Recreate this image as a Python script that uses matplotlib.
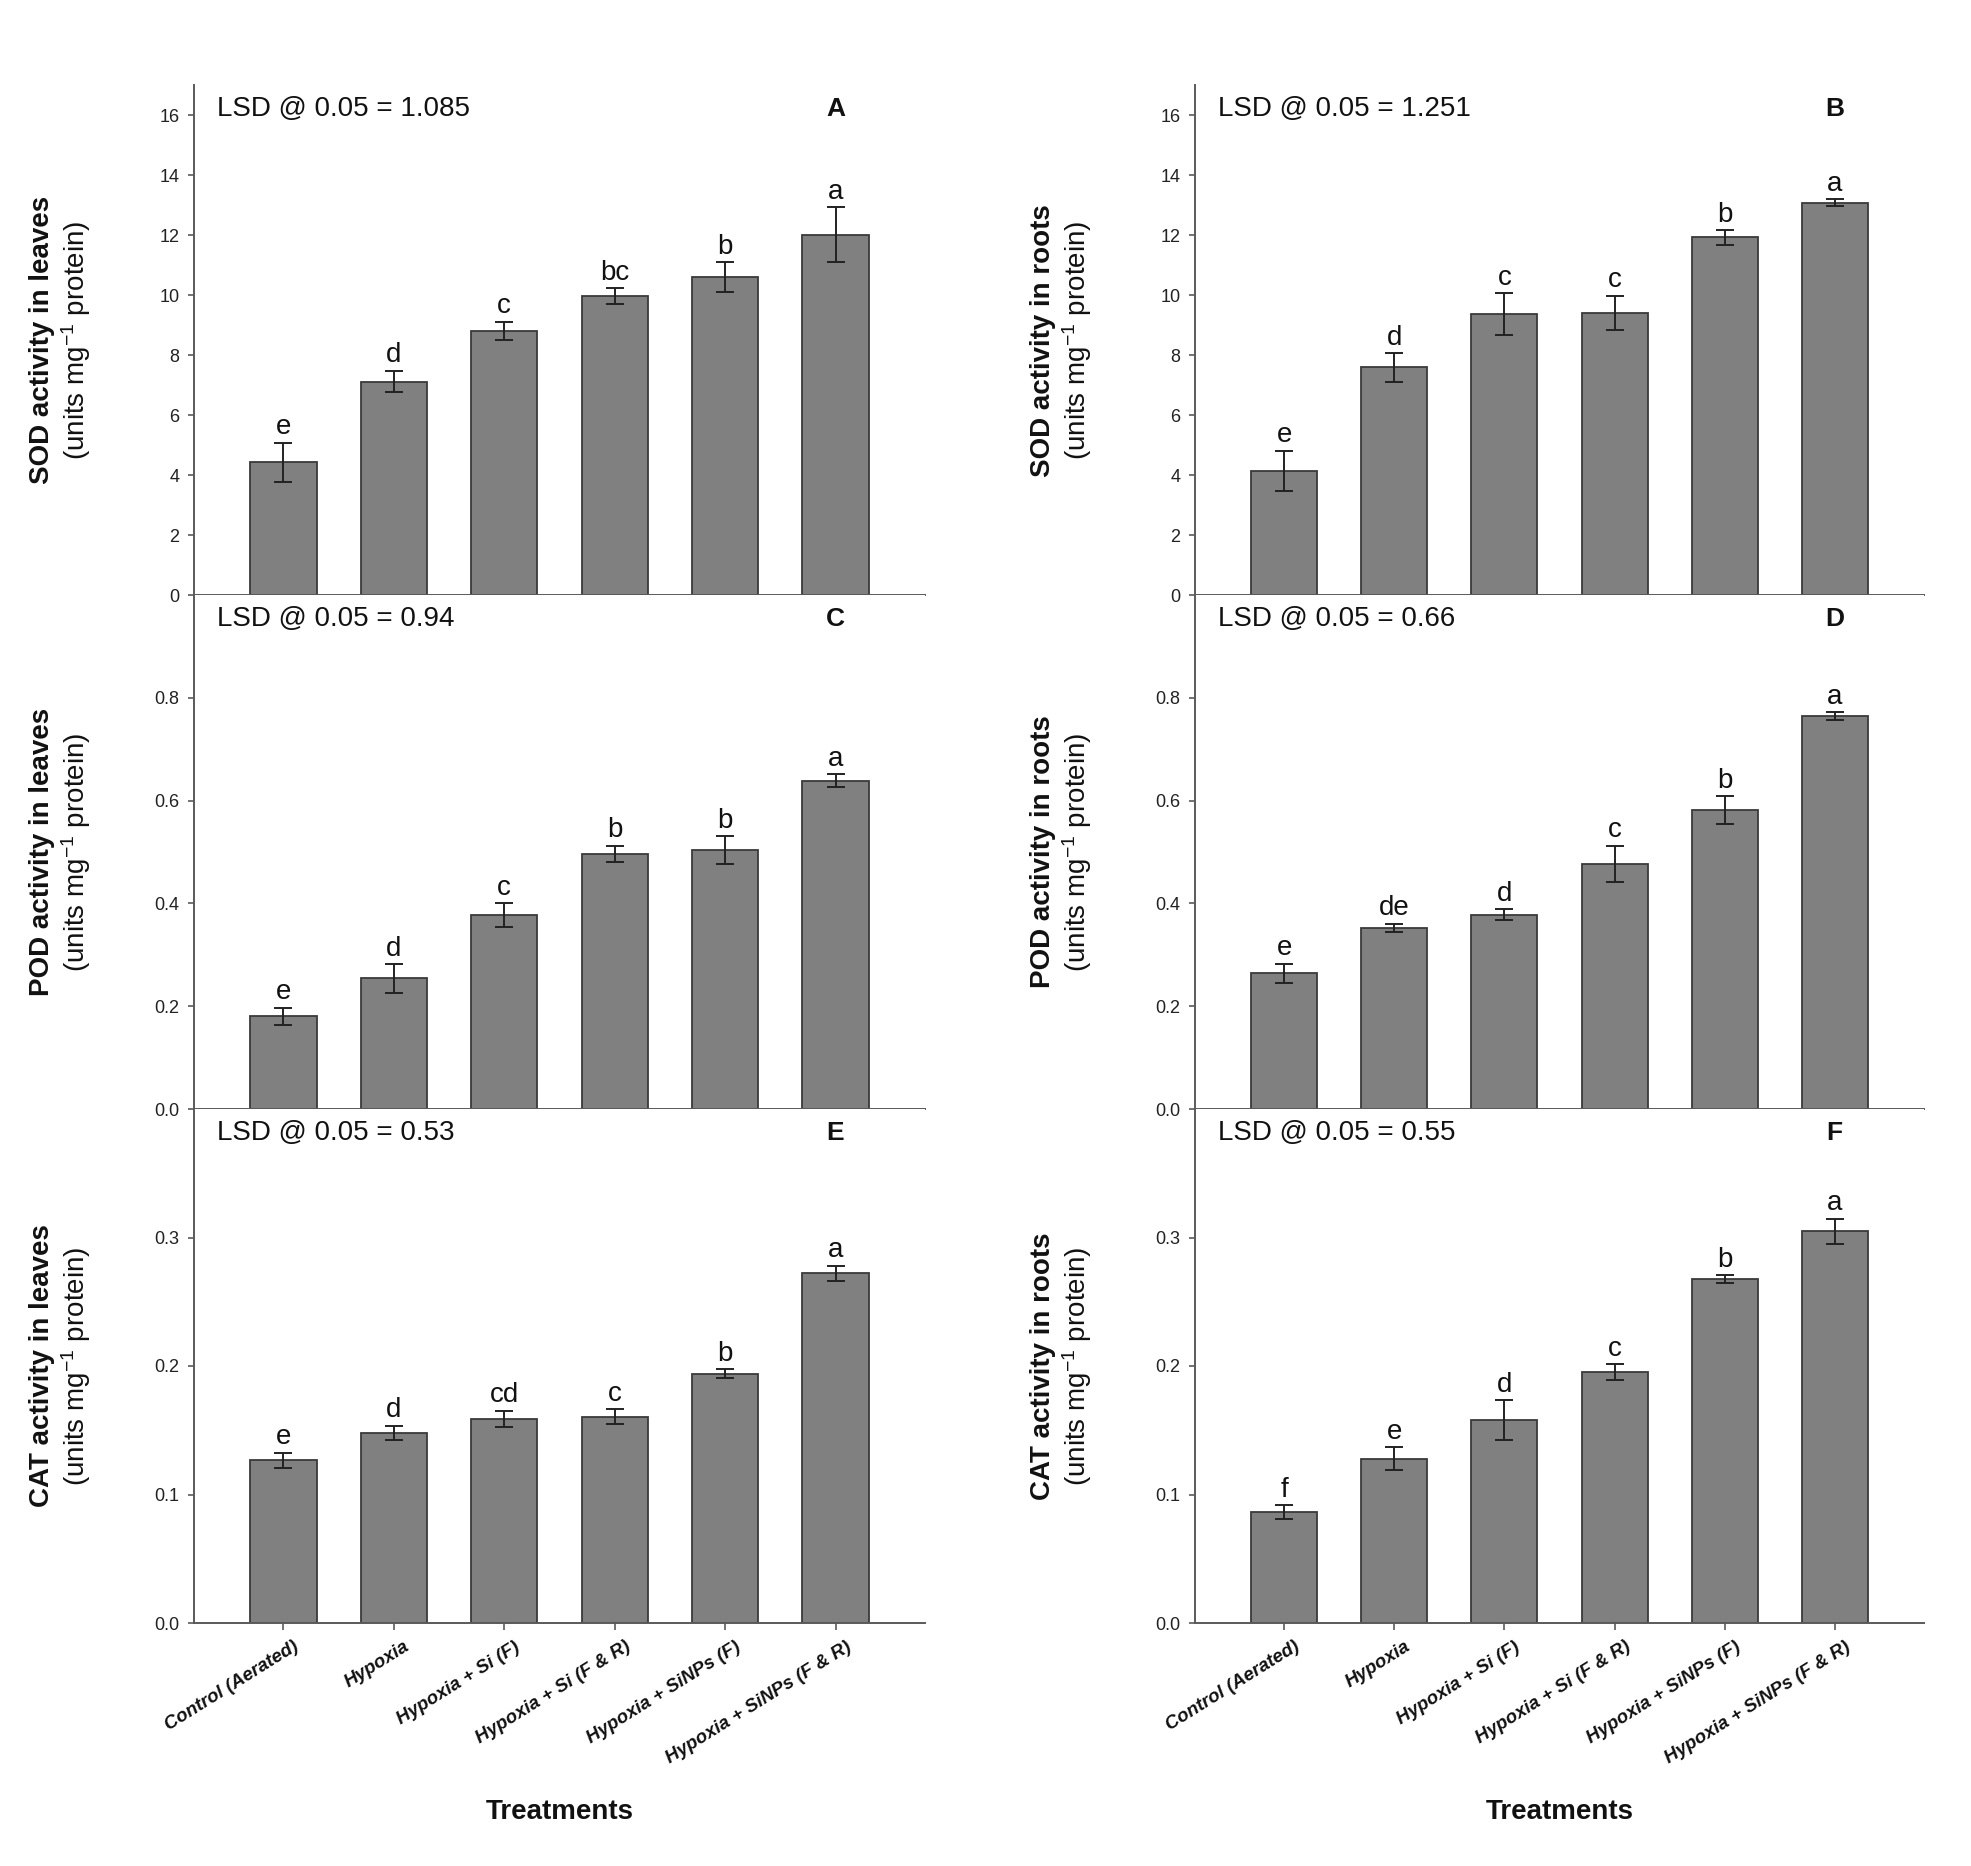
import matplotlib
matplotlib.use("Agg")
import matplotlib.pyplot as plt
from matplotlib import font_manager
import matplotlib.transforms as mtransforms

# ---------------- data ----------------
treatments = ["Control (Aerated)", "Hypoxia", "Hypoxia + Si (F)", "Hypoxia + Si (F & R)",
              "Hypoxia + SiNPs (F)", "Hypoxia + SiNPs (F & R)"]

sod_leaves = [4.43, 7.12, 8.82, 9.97, 10.61, 12.02]
sod_leaves_err = [0.65, 0.36, 0.30, 0.27, 0.50, 0.91]
sod_leaves_let = ["e", "d", "c", "bc", "b", "a"]

sod_roots = [4.14, 7.60, 9.37, 9.42, 11.93, 13.09]
sod_roots_err = [0.68, 0.48, 0.70, 0.57, 0.25, 0.12]
sod_roots_let = ["e", "d", "c", "c", "b", "a"]

pod_leaves = [0.180, 0.254, 0.378, 0.496, 0.504, 0.639]
pod_leaves_err = [0.017, 0.028, 0.023, 0.016, 0.027, 0.012]
pod_leaves_let = ["e", "d", "c", "b", "b", "a"]

pod_roots = [0.264, 0.352, 0.378, 0.477, 0.581, 0.764]
pod_roots_err = [0.019, 0.0085, 0.011, 0.035, 0.027, 0.008]
pod_roots_let = ["e", "de", "d", "c", "b", "a"]

cat_leaves = [0.1266, 0.148, 0.159, 0.1605, 0.1939, 0.272]
cat_leaves_err = [0.006, 0.0055, 0.0062, 0.0057, 0.0035, 0.006]
cat_leaves_let = ["e", "d", "cd", "c", "b", "a"]

cat_roots = [0.0862, 0.128, 0.158, 0.1953, 0.2677, 0.3049]
cat_roots_err = [0.0055, 0.0088, 0.0153, 0.0062, 0.0032, 0.0098]
cat_roots_let = ["f", "e", "d", "c", "b", "a"]

lsd_texts = ["LSD @ 0.05 = 1.085", "LSD @ 0.05 = 1.251", "LSD @ 0.05 = 0.94",
             "LSD @ 0.05 = 0.66", "LSD @ 0.05 = 0.53", "LSD @ 0.05 = 0.55"]
panel_letters = ["A", "B", "C", "D", "E", "F"]
ylabels_bold = ["SOD activity in leaves", "SOD activity in roots",
                "POD activity in leaves", "POD activity in roots",
                "CAT activity in leaves", "CAT activity in roots"]
ylabel_unit = "(units mg$^{-1}$ protein)"

sod_ticks = [0, 2, 4, 6, 8, 10, 12, 14, 16]
pod_ticks = [0.0, 0.2, 0.4, 0.6, 0.8]
cat_ticks = [0.0, 0.1, 0.2, 0.3]

# ---------------- fonts ----------------
def has_font(name):
    try:
        font_manager.findfont(font_manager.FontProperties(family=name), fallback_to_default=False)
        return True
    except Exception:
        return False

MAIN = "Liberation Sans" if has_font("Liberation Sans") else "DejaVu Sans"
NARROW = "Liberation Sans Narrow" if has_font("Liberation Sans Narrow") else MAIN
plt.rcParams["font.family"] = [MAIN, "DejaVu Sans"]
plt.rcParams["mathtext.fontset"] = "custom"
plt.rcParams["mathtext.rm"] = MAIN
plt.rcParams["mathtext.it"] = MAIN + ":italic"
plt.rcParams["mathtext.bf"] = MAIN + ":bold"

W, H = 1971, 1866
fig = plt.figure(figsize=(W / 100, H / 100), dpi=100)

col_x = [(194, 731), (1195, 729)]
row_y = [(85.5, 595), (595, 1109), (1109, 1623)]

panels = [
    (sod_leaves, sod_leaves_err, sod_leaves_let, 17, sod_ticks, "{:.0f}"),
    (sod_roots, sod_roots_err, sod_roots_let, 17, sod_ticks, "{:.0f}"),
    (pod_leaves, pod_leaves_err, pod_leaves_let, 1.0, pod_ticks, "{:.1f}"),
    (pod_roots, pod_roots_err, pod_roots_let, 1.0, pod_ticks, "{:.1f}"),
    (cat_leaves, cat_leaves_err, cat_leaves_let, 0.4, cat_ticks, "{:.1f}"),
    (cat_roots, cat_roots_err, cat_roots_let, 0.4, cat_ticks, "{:.1f}"),
]

spine_col = "#5a5a5a"
x = list(range(len(treatments)))
label_shift = mtransforms.ScaledTranslation(7 / 72, -11 / 72, fig.dpi_scale_trans)

for k, (vals, errs, lets, ytop, yt, fmt) in enumerate(panels):
    r, c = divmod(k, 2)
    x0, w = col_x[c]
    top, bot = row_y[r]
    ax = fig.add_axes([x0 / W, 1 - bot / H, w / W, (bot - top) / H])
    ax.bar(x, vals, width=0.6, color="#808080", edgecolor="#3a3a3a", linewidth=1.3, zorder=2)
    ax.errorbar(x, vals, yerr=errs, fmt="none", ecolor="#222222", elinewidth=1.4,
                capsize=6.5, capthick=1.4, zorder=3)
    for i, (v, e, l) in enumerate(zip(vals, errs, lets)):
        ax.annotate(l, xy=(i, v + e), xytext=(0, 6), textcoords="offset points",
                    ha="center", va="baseline", fontsize=20, color="#111111")
    ax.set_xlim(-0.81, 5.81)
    ax.set_ylim(0, ytop)
    ax.set_yticks(yt)
    ax.set_yticklabels([fmt.format(t) for t in yt], fontfamily=NARROW, fontsize=13, color="#222222")
    ax.set_xticks(x)
    ax.set_xticklabels([])
    if r == 2:
        xtrans = mtransforms.blended_transform_factory(ax.transData, ax.transAxes) + label_shift
        for i, name in enumerate(treatments):
            ax.text(i, 0, name, transform=xtrans, rotation=32, ha="right", va="top",
                    rotation_mode="anchor", fontsize=13.5, fontweight="bold",
                    fontstyle="italic", color="#111111", clip_on=False)
    for s in ["top", "right"]:
        ax.spines[s].set_visible(False)
    for s in ["left", "bottom"]:
        ax.spines[s].set_color(spine_col)
        ax.spines[s].set_linewidth(1.4)
    ax.tick_params(axis="y", direction="out", length=4.5, width=1.2, color=spine_col, pad=6)
    ax.tick_params(axis="x", direction="out", length=5, width=1.2, color=spine_col, pad=6)

    ax.text(0.032, 0.953, lsd_texts[k], transform=ax.transAxes, ha="left", va="center",
            fontsize=20, color="#111111")
    trans = mtransforms.blended_transform_factory(ax.transData, ax.transAxes)
    ax.text(5, 0.953, panel_letters[k], transform=trans, ha="center", va="center",
            fontsize=19, fontweight="bold", color="#111111")

    yc = 1 - ((top + bot) / 2) / H
    fig.text((x0 - 152) / W, yc, ylabels_bold[k], rotation=90, ha="center", va="center",
             fontsize=20, fontweight="bold", color="#111111")
    fig.text((x0 - 118) / W, yc, ylabel_unit, rotation=90, ha="center", va="center",
             fontsize=20, color="#111111")

    if r == 2:
        fig.text((x0 + w / 2) / W, 1 - 1812 / H, "Treatments", ha="center", va="center",
                 fontsize=20, fontweight="bold", color="#111111")

fig.savefig("out.png", dpi=100, facecolor="white")
